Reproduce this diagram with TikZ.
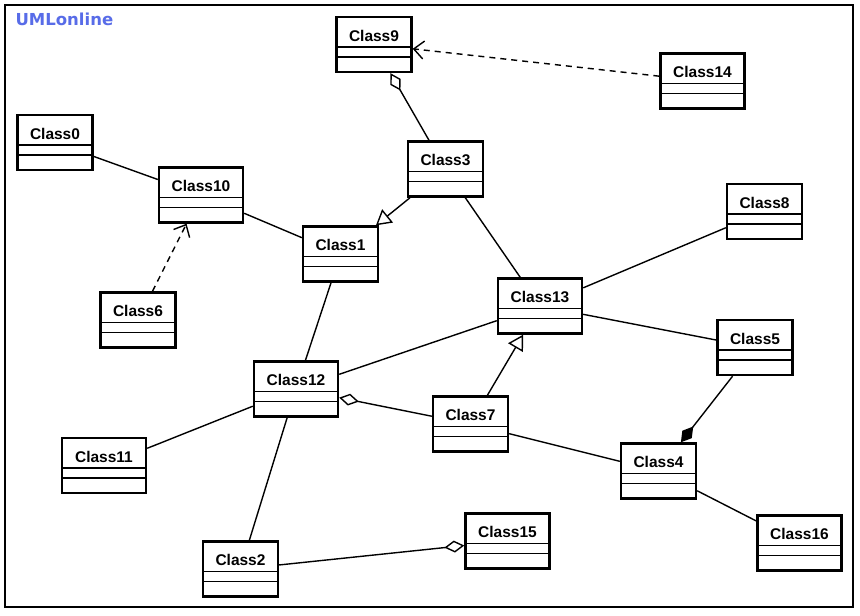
\documentclass[tikz,border=0pt]{standalone}
\usepackage{fontspec}
\setmainfont{Liberation Sans}
\newfontfamily\logofont{DejaVu Sans}
\usetikzlibrary{arrows.meta}
\definecolor{logoblue}{RGB}{88,108,232}

\tikzset{
  classbox/.style={draw, line width=2.4pt, fill=white, inner sep=0pt,
    minimum height=55pt, text height=24pt, text depth=31pt,
    font=\fontsize{15.5}{18}\selectfont\bfseries,
    path picture={
      \draw[line width=1.8pt] ([yshift=-30pt]path picture bounding box.north west) -- ([yshift=-30pt]path picture bounding box.north east);
      \draw[line width=1.8pt] ([yshift=-40pt]path picture bounding box.north west) -- ([yshift=-40pt]path picture bounding box.north east);
    }},
  shortbox/.style={classbox, minimum width=75pt},
  longbox/.style={classbox, minimum width=84pt},
  link/.style={line width=1.4pt},
  depend/.style={link, dash pattern=on 6pt off 5pt, -{Straight Barb[length=10pt,width=18pt,line width=1.4pt]}},
  inherit/.style={link, -{Triangle[open,length=15pt,width=17pt,fill=white]}},
  aggreg/.style={link, -{Diamond[open,length=20pt,width=12pt,fill=white]}},
  compos/.style={link, -{Diamond[length=20pt,width=12pt]}}
}

\begin{document}
\begin{tikzpicture}[x=1pt,y=-1pt]
  \useasboundingbox[fill=white] (0,0) rectangle (860,616);
  \draw[line width=1.5pt] (5,5) rectangle (853,607);
  \node[anchor=base west, text=logoblue, font=\logofont\bfseries\fontsize{16.5}{18}\selectfont] (logo) at (12,25.5) {UMLonline};

  %classes
  \node[shortbox] (class0) at (55,142.5) {Class0};
  \node[shortbox] (class9) at (374,44.5) {Class9};
  \node[longbox] (class14) at (702.5,81) {Class14};
  \node[shortbox] (class3) at (445.5,169) {Class3};
  \node[longbox] (class10) at (201,195) {Class10};
  \node[shortbox] (class8) at (764.5,211.5) {Class8};
  \node[shortbox] (class1) at (340.5,254) {Class1};
  \node[shortbox] (class6) at (138,320) {Class6};
  \node[longbox] (class13) at (540,306) {Class13};
  \node[shortbox] (class5) at (755,347.5) {Class5};
  \node[longbox] (class12) at (296,389) {Class12};
  \node[shortbox] (class7) at (470.5,424) {Class7};
  \node[longbox] (class11) at (104,465.5) {Class11};
  \node[shortbox] (class4) at (658.5,471) {Class4};
  \node[longbox] (class16) at (799.5,543) {Class16};
  \node[shortbox] (class2) at (240.5,569) {Class2};
  \node[longbox] (class15) at (507.5,541) {Class15};

  %plain links
  \draw[link] (class0) -- (class10);
  \draw[link] (class10) -- (class1);
  \draw[link] (class3) -- (class13);
  \draw[link] (class1) -- (class12);
  \draw[link] (class12) -- (class13);
  \draw[link] (class13) -- (class8);
  \draw[link] (class13) -- (class5);
  \draw[link] (class7) -- (class4);
  \draw[link] (class4) -- (class16);
  \draw[link] (class12) -- (class11);
  \draw[link] (class12) -- (class2);

  %arrows
  \draw[depend] (class6) -- (class10);
  \draw[depend] (class14) -- (class9);
  \draw[inherit] (class3) -- (class1);
  \draw[inherit] (class7) -- (class13);
  \draw[aggreg] (class3) -- (class9);
  \draw[aggreg] (class7) -- (class12);
  \draw[aggreg] (class2) -- (class15);
  \draw[compos] (class5) -- (class4);
\end{tikzpicture}
\end{document}
